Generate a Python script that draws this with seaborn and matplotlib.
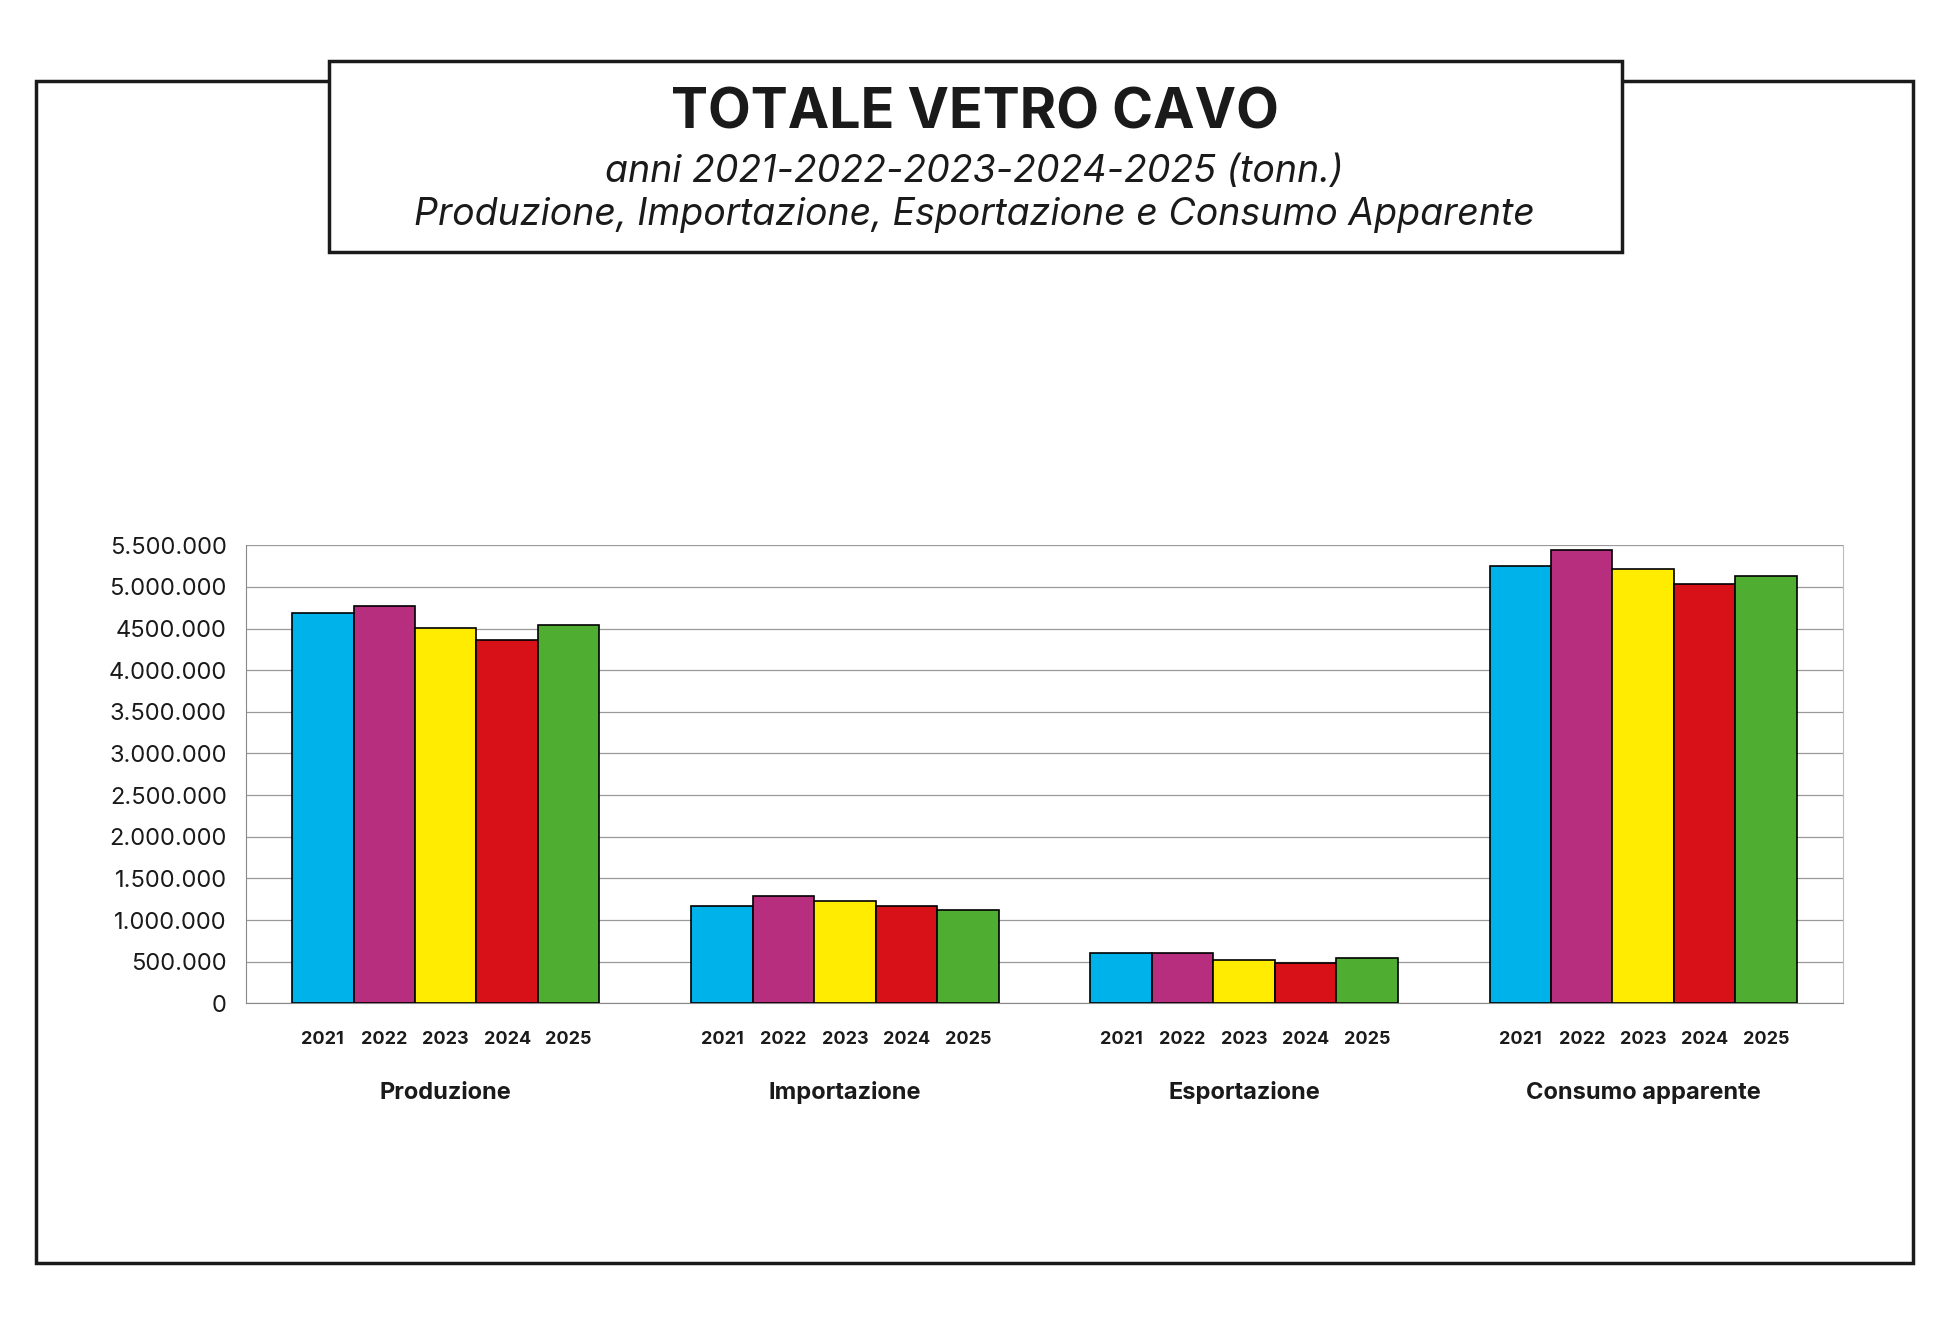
import matplotlib
matplotlib.use("Agg")
import matplotlib.pyplot as plt
import matplotlib.patches as mpatches
import pandas as pd
import seaborn as sns

categories = ["Produzione", "Importazione", "Esportazione", "Consumo apparente"]
years = ["2021", "2022", "2023", "2024", "2025"]
produzione = [4690000, 4770000, 4510000, 4360000, 4540000]
importazione = [1170000, 1290000, 1230000, 1170000, 1120000]
esportazione = [610000, 610000, 520000, 490000, 540000]
consumo = [5250000, 5440000, 5210000, 5040000, 5130000]
colors = ["#00b2ea", "#b72e7e", "#ffec00", "#d71117", "#4fae32"]
ytick_vals = [0, 500000, 1000000, 1500000, 2000000, 2500000, 3000000,
              3500000, 4000000, 4500000, 5000000, 5500000]
ytick_labels = ["0", "500.000", "1.000.000", "1.500.000", "2.000.000", "2.500.000",
                "3.000.000", "3.500.000", "4.000.000", "4500.000", "5.000.000", "5.500.000"]

rows = []
for cat, vals in zip(categories, [produzione, importazione, esportazione, consumo]):
    for y, v in zip(years, vals):
        rows.append({"cat": cat, "year": y, "val": v})
df = pd.DataFrame(rows)

sns.set_style("white")
plt.rcParams["font.family"] = ["Inter", "DejaVu Sans"]

W, H = 1560, 1065
fig = plt.figure(figsize=(19.49, 13.29), dpi=100)

# outer frame and title box
fig.patches.append(mpatches.Rectangle((29 / W, 1 - 1012 / H), 1502 / W, 947 / H,
                                      transform=fig.transFigure, fill=False, lw=2.5, ec="#1a1a1a"))
fig.patches.append(mpatches.Rectangle((263 / W, 1 - 202 / H), 1035 / W, 153 / H,
                                      transform=fig.transFigure, fc="white", lw=2.5, ec="#1a1a1a", zorder=3))
fig.text(780 / W, 1 - 91 / H, "TOTALE VETRO CAVO", ha="center", va="center",
         fontsize=40, fontweight="bold", color="#1a1a1a", zorder=4)
fig.text(780 / W, 1 - 138 / H, "anni 2021-2022-2023-2024-2025 (tonn.)", ha="center", va="center",
         fontsize=27, style="italic", color="#1a1a1a", zorder=4)
fig.text(780 / W, 1 - 172 / H, "Produzione, Importazione, Esportazione e Consumo Apparente",
         ha="center", va="center", fontsize=27, style="italic", color="#1a1a1a", zorder=4)

ax = fig.add_axes([197 / W, 1 - 804 / H, 1278 / W, 367 / H])
sns.barplot(data=df, x="cat", y="val", hue="year", palette=colors, width=0.77, saturation=1,
            edgecolor="black", linewidth=1.2, ax=ax, legend=False, zorder=3)
ax.set_ylim(0, 5500000)
ax.set_xlim(-0.5, 3.5)
ax.set_yticks(ytick_vals)
ax.set_yticklabels(ytick_labels, fontsize=17, color="#1a1a1a")
ax.grid(axis="y", color="#9a9a9a", lw=0.9, zorder=0)
ax.spines["top"].set_visible(False)
ax.spines["right"].set_color("#bbbbbb")
ax.spines["left"].set_color("#888888")
ax.spines["bottom"].set_color("#888888")
ax.tick_params(axis="y", length=6, color="#888888", pad=8)
ax.set_xticks([-0.5, 0.5, 1.5, 2.5, 3.5])
ax.set_xticklabels([])
ax.tick_params(axis="x", length=6, color="#888888")
ax.set_xlabel("")
ax.set_ylabel("")

for p in ax.patches:
    if p.get_height() <= 0:
        continue
    xc = p.get_x() + p.get_width() / 2
    idx = int(round((xc - round(xc)) / (0.77 / 5) + 2))
    ax.text(xc, -0.08, years[idx], transform=ax.get_xaxis_transform(),
            ha="center", va="center", fontsize=13, fontweight="bold", color="#1a1a1a")
for i, c in enumerate(categories):
    ax.text(i, -0.195, c, transform=ax.get_xaxis_transform(), ha="center", va="center",
            fontsize=17, fontweight="bold", color="#1a1a1a")

fig.savefig("out.png", dpi=100)
